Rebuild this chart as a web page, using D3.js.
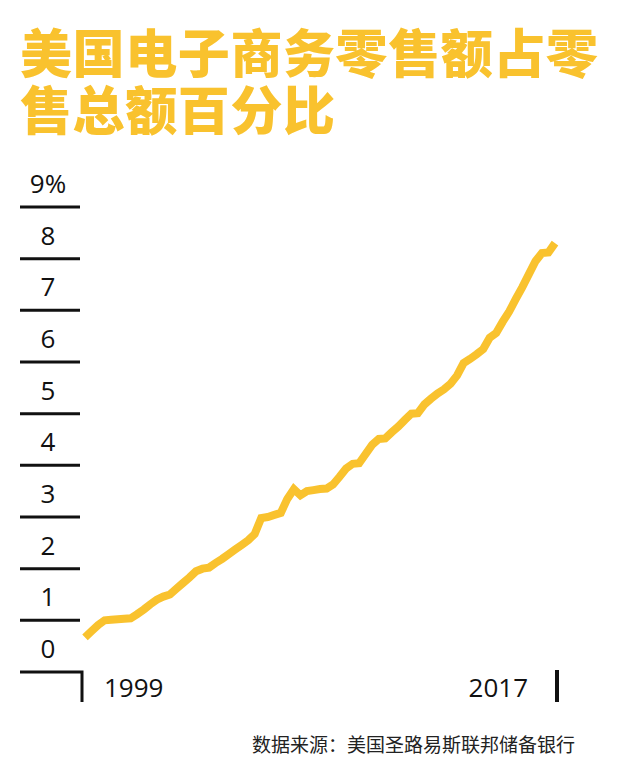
<!DOCTYPE html>
<html>
<head>
<meta charset="utf-8">
<script src="https://cdn.jsdelivr.net/npm/d3@7"></script>
<style>
  body { margin: 0; background: #fff; }
  svg { display: block; }
</style>
</head>
<body>
<script>
// 标题和来源
var titleLines = ["美国电子商务零售额占零", "售总额百分比"];
var sourceText = "数据来源：美国圣路易斯联邦储备银行";

// 纵轴刻度
var yTicks = [0, 1, 2, 3, 4, 5, 6, 7, 8, 9];
var yTickLabels = ["0", "1", "2", "3", "4", "5", "6", "7", "8", "9%"];

// 横轴标签
var xLabels = ["1999", "2017"];

// 季度数据, 1999年第四季度起
var startQuarter = new Date(1999, 9, 1);
var shareValues = [
  0.67, 0.79, 0.91, 1.00, 1.01, 1.02, 1.03, 1.04, 1.12, 1.21,
  1.31, 1.40, 1.46, 1.50, 1.61, 1.72, 1.83, 1.95, 2.00, 2.02,
  2.11, 2.19, 2.28, 2.37, 2.46, 2.55, 2.67, 2.98, 3.00, 3.04,
  3.08, 3.35, 3.54, 3.42, 3.50, 3.52, 3.54, 3.55, 3.63, 3.78,
  3.94, 4.03, 4.04, 4.22, 4.40, 4.51, 4.52, 4.64, 4.75, 4.88,
  5.00, 5.01, 5.18, 5.29, 5.39, 5.47, 5.58, 5.74, 5.98, 6.06,
  6.15, 6.25, 6.47, 6.56, 6.78, 6.98, 7.22, 7.45, 7.70, 7.95,
  8.11, 8.12, 8.30
];

var yellow = "#f9c22e";
var ink = "#111";

var data = shareValues.map(function(v, i) {
  return { date: d3.timeMonth.offset(startQuarter, i * 3), value: v };
});

var svg = d3.select("body").append("svg")
  .attr("width", 640)
  .attr("height", 776);

// 标题 (一个text, 两行tspan)
svg.append("text")
  .attr("fill", yellow)
  .attr("font-family", "'Noto Sans CJK SC', sans-serif")
  .attr("font-weight", 900)
  .attr("font-size", 52)
  .attr("letter-spacing", 0.6)
  .selectAll("tspan")
  .data(titleLines)
  .enter().append("tspan")
  .attr("x", 20)
  .attr("y", (d, i) => 73 + i * 57)
  .text(d => d);

// 比例尺
var xScale = d3.scaleTime()
  .domain(d3.extent(data, d => d.date))
  .range([85, 555]);
var yScale = d3.scaleLinear()
  .domain([0, 9])
  .range([672, 207]);

// 纵轴刻度线 (0 由底部角线代替)
svg.selectAll(".ytick")
  .data(yTicks.filter(d => d > 0))
  .enter().append("line")
  .attr("class", "ytick")
  .attr("x1", 20).attr("x2", 80)
  .attr("y1", d => yScale(d)).attr("y2", d => yScale(d))
  .attr("stroke", ink)
  .attr("stroke-width", 3);

svg.selectAll(".ylabel")
  .data(yTicks)
  .enter().append("text")
  .attr("class", "ylabel")
  .attr("x", 48)
  .attr("y", d => yScale(d) - 14)
  .attr("text-anchor", "middle")
  .attr("font-family", "'Open Sans', sans-serif")
  .attr("font-size", 26)
  .attr("fill", ink)
  .text((d, i) => yTickLabels[i]);

// 底部角线和右侧刻度
var x0 = xScale.range()[0] - 3, x1 = xScale.range()[1] + 2;
svg.append("path")
  .attr("d", "M20," + yScale(0) + "H" + x0 + "V702")
  .attr("fill", "none")
  .attr("stroke", ink)
  .attr("stroke-width", 3);
svg.append("line")
  .attr("x1", x1).attr("x2", x1)
  .attr("y1", 670).attr("y2", 702)
  .attr("stroke", ink)
  .attr("stroke-width", 4);

// 横轴标签
svg.append("text")
  .attr("x", x0 + 22)
  .attr("y", 697)
  .attr("font-family", "'Open Sans', sans-serif")
  .attr("font-size", 26)
  .attr("fill", ink)
  .text(xLabels[0]);
svg.append("text")
  .attr("x", x1 - 29)
  .attr("y", 697)
  .attr("text-anchor", "end")
  .attr("font-family", "'Open Sans', sans-serif")
  .attr("font-size", 26)
  .attr("fill", ink)
  .text(xLabels[1]);

// 折线
var line = d3.line()
  .x(d => xScale(d.date))
  .y(d => yScale(d.value));

svg.append("path")
  .datum(data)
  .attr("d", line)
  .attr("fill", "none")
  .attr("stroke", yellow)
  .attr("stroke-width", 8)
  .attr("stroke-linejoin", "miter");

// 数据来源
svg.append("text")
  .attr("x", 575)
  .attr("y", 752)
  .attr("text-anchor", "end")
  .attr("font-family", "'Noto Sans CJK SC', sans-serif")
  .attr("font-size", 19)
  .attr("fill", "#222")
  .text(sourceText);
</script>
</body>
</html>
